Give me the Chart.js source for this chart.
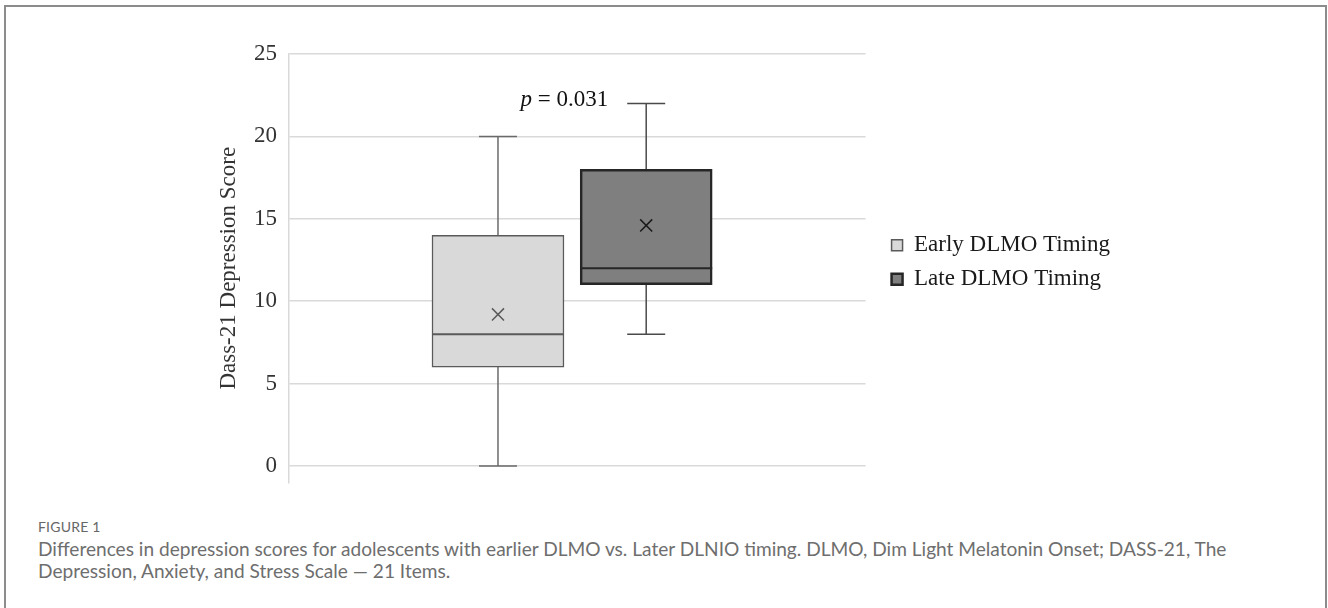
<!DOCTYPE html>
<html>
<head>
<meta charset="utf-8">
<script src="https://cdn.jsdelivr.net/npm/chart.js@4.4.1/dist/chart.umd.min.js"></script>
<style>
    body { margin: 0; background: #fff; overflow: hidden; width: 1328px; height: 608px; }
    #frame { position: absolute; left: 4px; top: 5px; width: 1323px; height: 700px; box-sizing: border-box; border: 2px solid #8c8c8c; }
    #chartBox { position: absolute; left: 0; top: 0; width: 1328px; height: 500px; }
    .fig-label { position: absolute; left: 38px; top: 519px; font: 14px/16px Lato, "Open Sans", sans-serif; color: #666; letter-spacing: 0.2px; }
    .caption { position: absolute; left: 38px; top: 538px; margin: 0; font: 19.1px/22px Lato, "Open Sans", sans-serif; color: #6e6e6e; white-space: nowrap; }
</style>
</head>
<body>
<div id="frame"></div>
<div id="chartBox"><canvas id="boxChart"></canvas></div>
<div class="fig-label">FIGURE 1</div>
<p class="caption">Differences in depression scores for adolescents with earlier DLMO vs. Later DLNIO timing. DLMO, Dim Light Melatonin Onset; DASS-21, The<br>Depression, Anxiety, and Stress Scale — 21 Items.</p>

<script>
// Box plot values, one entry per group
const groups = ["Early DLMO Timing", "Late DLMO Timing"];
const minVals = [0, 8];
const q1Vals = [6, 11];
const medianVals = [8, 12];
const q3Vals = [14, 18];
const maxVals = [20, 22];
const meanVals = [9.2, 14.6];
const yTicks = [0, 5, 10, 15, 20, 25];
const pLabel = ["p", " = 0.031"];

// Styles per group
const boxFill = ["#d9d9d9", "#7f7f7f"];
const boxBorder = ["#5a5a5a", "#262626"];
const boxBorderWidth = [1.5, 2.5];
const whiskerColor = ["#6a6a6a", "#4a4a4a"];
const meanColor = ["#5a5a5a", "#1a1a1a"];
const BOX_WIDTH = 132;
const SERIF = "'Liberation Serif', 'Times New Roman', serif";

Chart.defaults.font.family = SERIF;
Chart.defaults.color = "#333";

const datasets = [];
groups.forEach((name, i) => {
    const x = i + 1;
    datasets.push({
        type: "line",
        label: "",
        data: [{ x: x, y: minVals[i] }, { x: x, y: maxVals[i] }],
        borderColor: whiskerColor[i],
        borderWidth: 1.5,
        pointRadius: 0,
        order: 3
    });
    datasets.push({
        type: "bar",
        label: name,
        data: [{ x: x, y: [q1Vals[i], q3Vals[i]] }],
        backgroundColor: boxFill[i],
        borderColor: boxBorder[i],
        borderWidth: boxBorderWidth[i],
        borderSkipped: false,
        barThickness: BOX_WIDTH,
        maxBarThickness: BOX_WIDTH,
        grouped: false,
        order: 2
    });
    datasets.push({
        type: "scatter",
        label: "",
        data: [{ x: x, y: minVals[i] }, { x: x, y: maxVals[i] }],
        pointStyle: "line",
        pointRadius: 19,
        pointBorderColor: whiskerColor[i],
        pointBorderWidth: 1.5,
        order: 1
    });
    datasets.push({
        type: "scatter",
        label: "",
        data: [{ x: x, y: medianVals[i] }],
        pointStyle: "line",
        pointRadius: BOX_WIDTH / 2,
        pointBorderColor: boxBorder[i],
        pointBorderWidth: 2,
        order: 1
    });
    datasets.push({
        type: "scatter",
        label: "",
        data: [{ x: x, y: meanVals[i] }],
        pointStyle: "crossRot",
        pointRadius: 8.5,
        pointBorderColor: meanColor[i],
        pointBorderWidth: 1.5,
        order: 1
    });
});

// p-value text next to the upper cap of the late group
const pValuePlugin = {
    id: "pValue",
    afterDatasetsDraw(chart) {
        const { ctx, scales } = chart;
        const right = scales.x.getPixelForValue(2) - 38;
        const y = scales.y.getPixelForValue(maxVals[1]) - 3;
        ctx.save();
        ctx.fillStyle = "#111";
        ctx.textBaseline = "middle";
        ctx.font = "italic 23px " + SERIF;
        const w1 = ctx.measureText(pLabel[0]).width;
        ctx.font = "23px " + SERIF;
        const w2 = ctx.measureText(pLabel[1]).width;
        ctx.fillText(pLabel[1], right - w2, y);
        ctx.font = "italic 23px " + SERIF;
        ctx.fillText(pLabel[0], right - w2 - w1, y);
        ctx.restore();
    }
};

new Chart(document.getElementById("boxChart"), {
    type: "bar",
    data: { datasets: datasets },
    plugins: [pValuePlugin],
    options: {
        responsive: true,
        maintainAspectRatio: false,
        animation: false,
        events: [],
        layout: {
            autoPadding: false,
            padding: { top: 42, right: 208, bottom: 17.5, left: 215 }
        },
        plugins: {
            tooltip: { enabled: false },
            legend: {
                position: "right",
                maxWidth: 400,
                labels: {
                    boxWidth: 11,
                    boxHeight: 11,
                    padding: 11,
                    color: "#1a1a1a",
                    font: { size: 23 },
                    filter: (item, data) => data.datasets[item.datasetIndex].type === "bar"
                }
            }
        },
        scales: {
            x: {
                type: "linear",
                position: "top",
                min: -0.41,
                max: 3.48,
                offset: false,
                grid: { display: false },
                border: { display: false },
                ticks: { display: false },
                afterFit: s => { s.height = 12; }
            },
            y: {
                min: -1,
                max: 25,
                afterBuildTicks: s => { s.ticks = yTicks.map(v => ({ value: v })); },
                afterFit: s => {
                    s.width = 74;
                    s.paddingTop = 0;
                    s.paddingBottom = 0;
                },
                grid: { color: "#d9d9d9", lineWidth: 1.5, drawTicks: false },
                border: { color: "#d9d9d9", width: 1.5 },
                ticks: { padding: 12, color: "#333", font: { size: 23 } },
                title: {
                    display: true,
                    text: "Dass-21 Depression Score",
                    color: "#333",
                    font: { size: 23 },
                    padding: 0
                }
            },
            gap: {
                axis: "y",
                type: "linear",
                position: "right",
                grid: { display: false },
                border: { display: false },
                ticks: { display: false },
                afterFit: s => { s.width = 15; }
            }
        }
    }
});
</script>
</body>
</html>
